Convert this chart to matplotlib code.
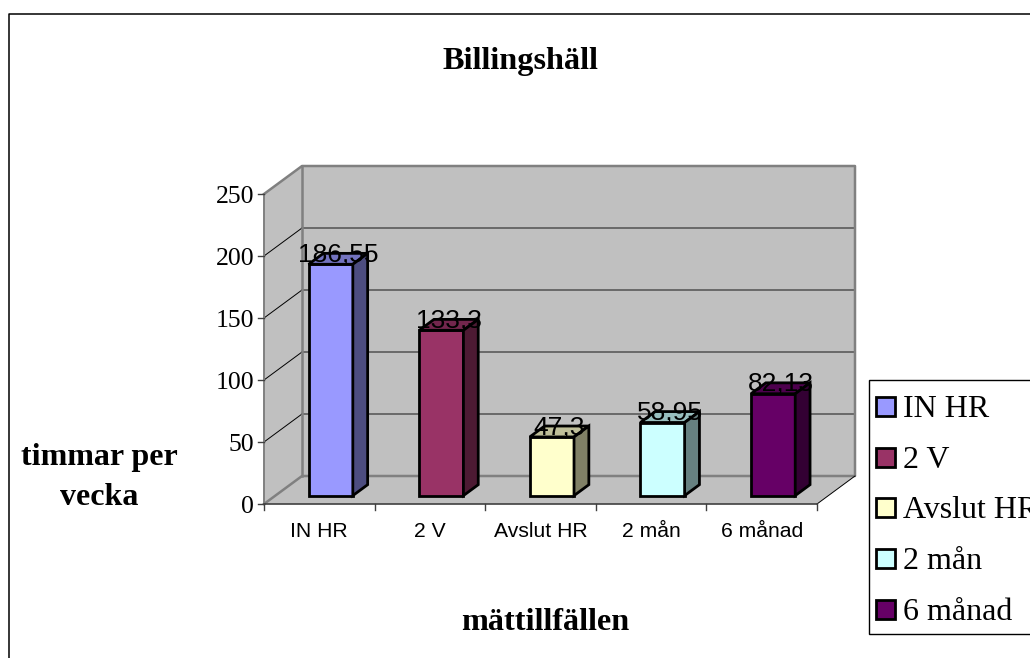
import matplotlib
matplotlib.use('Agg')
import matplotlib.pyplot as plt
from matplotlib.colors import to_rgb
from matplotlib.patches import Rectangle

W, H = 1030, 658

categories = ['IN HR', '2 V', 'Avslut HR', '2 mån', '6 månad']
values = [186.55, 133.3, 47.3, 58.95, 82.13]
colors = ['#9999FF', '#993366', '#FFFFCC', '#CCFFFF', '#660066']
y_ticks = [0, 50, 100, 150, 200, 250]

SERIF = 'Liberation Serif'
SANS = 'Liberation Sans'

fig = plt.figure(figsize=(W / 100, H / 100), dpi=100, facecolor='white')

# axes = front plane of the 3D box, everything else is sheared back from it
ax = fig.add_axes([264 / W, 1 - 504 / H, 553 / W, 310 / H])
ax.set_xlim(0, len(categories))
ax.set_ylim(0, 250)
ax.axis('off')

# how far full depth moves a point, in data units (38 px right, 28 px up)
DEPTH_X = 38 / (553 / len(categories))
DEPTH_Y = 28 / (310 / 250)


def proj(x, v, d):
    return x + d * DEPTH_X, v + d * DEPTH_Y


def face(points, color, z, edge='none', lw=0):
    xs, ys = zip(*[proj(*p) for p in points])
    ax.fill(xs, ys, facecolor=color, edgecolor=edge, linewidth=lw, zorder=z,
            clip_on=False, joinstyle='miter')


def line(points, color, lw, z):
    xs, ys = zip(*[proj(*p) for p in points])
    ax.plot(xs, ys, color=color, linewidth=lw, zorder=z, clip_on=False,
            solid_capstyle='projecting')


def shade(color, k):
    return tuple(c * k for c in to_rgb(color))


n = len(categories)
wall = '#C0C0C0'
face([(0, 0, 1), (n, 0, 1), (n, 250, 1), (0, 250, 1)], wall, 1)
face([(0, 0, 0), (0, 0, 1), (0, 250, 1), (0, 250, 0)], wall, 1)
face([(0, 0, 0), (n, 0, 0), (n, 0, 1), (0, 0, 1)], wall, 1)

# gridlines, dark on the back wall and thin black on the side wall
for t in y_ticks[1:-1]:
    line([(0, t, 1), (n, t, 1)], '#5A5A5A', 1.2, 2)
    line([(0, t, 0), (0, t, 1)], 'black', 0.7, 2)

# box outline
line([(0, 250, 0), (0, 250, 1), (n, 250, 1), (n, 0, 1), (0, 0, 1), (0, 0, 0)], '#808080', 1.8, 3)
line([(0, 0, 1), (0, 250, 1)], '#808080', 1.8, 3)
line([(0, 0, 0), (0, 250, 0)], '#808080', 1.4, 3)
line([(n, 0, 0), (n, 0, 1)], 'black', 0.7, 3)
line([(0, 0, 0), (n, 0, 0)], '#404040', 1.2, 3)

# axis ticks
for t in y_ticks:
    ax.plot([-6 / 110.6, 0], [t, t], color='#404040', lw=1, clip_on=False, zorder=3)
    ax.annotate(str(t), (0, t), xytext=(-7, -2), textcoords='offset points', ha='right',
                va='center', family=SERIF, fontsize=18.5, annotation_clip=False)
for i in range(n + 1):
    ax.plot([i, i], [0, -6 / 1.24], color='#404040', lw=1, clip_on=False, zorder=3)
for i, cat in enumerate(categories):
    ax.annotate(cat, (i + 0.5, 0), xytext=(0, -13), textcoords='offset points', ha='center',
                va='top', family=SANS, fontsize=15.2, annotation_clip=False)

# bars
D0, D1 = 0.3, 0.69
for i, (v, c) in enumerate(zip(values, colors)):
    x0, x1 = i + 0.3, i + 0.7
    face([(x0, 0, D0), (x1, 0, D0), (x1, v, D0), (x0, v, D0)], c, 4, 'black', 2)
    face([(x0, v, D0), (x1, v, D0), (x1, v, D1), (x0, v, D1)], shade(c, 0.75), 4, 'black', 2)
    face([(x1, 0, D0), (x1, 0, D1), (x1, v, D1), (x1, v, D0)], shade(c, 0.5), 4, 'black', 2)
    lx, ly = proj(i + 0.5, v, 0.5)
    ax.annotate(str(v).replace('.', ','), (lx, ly), xytext=(0, -2), textcoords='offset points',
                ha='center', va='baseline', family=SANS, fontsize=19, zorder=5,
                annotation_clip=False)

# overall frame, open on the right and bottom
fig.add_artist(plt.Line2D([8.5 / W, 8.5 / W, 1], [0, 1 - 13.5 / H, 1 - 13.5 / H], color='black', lw=1.1))

fig.text(520.5 / W, 1 - 62 / H, 'Billingshäll', family=SERIF, weight='bold', fontsize=23.2,
         ha='center', va='center')
fig.text(99 / W, 1 - 477.5 / H, 'timmar per\nvecka', family=SERIF, weight='bold', fontsize=23,
         ha='center', va='center', linespacing=1.52)
fig.text(545.5 / W, 1 - 623 / H, 'mättillfällen', family=SERIF, weight='bold', fontsize=23.2,
         ha='center', va='center')

# legend box runs off the right edge
fig.add_artist(Rectangle((868.5 / W, 1 - 633.5 / H), 170 / W, 254 / H, transform=fig.transFigure,
                         facecolor='white', edgecolor='black', lw=1))
for i, (cat, c) in enumerate(zip(categories, colors)):
    yc = 406.5 + i * 50.7
    fig.add_artist(Rectangle((875.5 / W, 1 - (yc + 9.5) / H), 19 / W, 19 / H, transform=fig.transFigure,
                             facecolor=c, edgecolor='black', lw=2))
    fig.text(903 / W, 1 - (yc + 10.5) / H, cat, family=SERIF, fontsize=23, ha='left', va='baseline')

fig.savefig('out.png', dpi=100)
